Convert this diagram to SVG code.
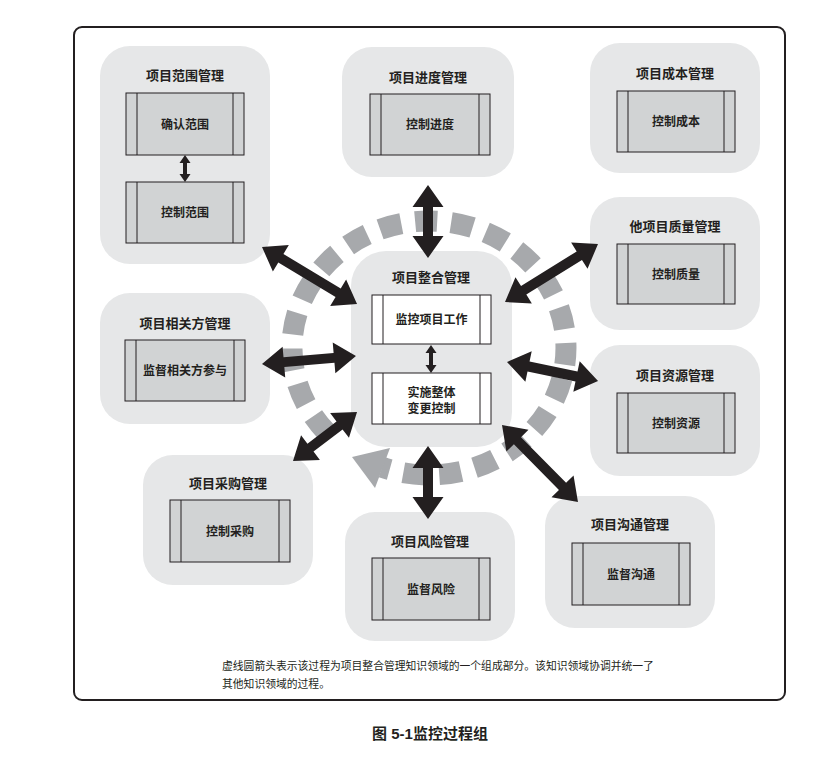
<svg xmlns="http://www.w3.org/2000/svg" width="833" height="759" viewBox="0 0 833 759">
<style>
.frame{fill:#fff;stroke:#231f20;stroke-width:2}
.node{fill:#e6e7e8}
.pbox{fill:#d1d3d4;stroke:#231f20;stroke-width:1}
.wbox{fill:#fff;stroke:#231f20;stroke-width:1}
.strip{stroke:#231f20;stroke-width:1}
.title{font-family:"Liberation Sans","Noto Sans CJK SC",sans-serif;font-weight:bold;font-size:13px;fill:#231f20;text-anchor:middle}
.lbl{font-family:"Liberation Sans","Noto Sans CJK SC",sans-serif;font-weight:bold;font-size:12px;fill:#231f20;text-anchor:middle}
.note{font-family:"Liberation Sans","Noto Sans CJK SC",sans-serif;font-size:10.8px;fill:#231f20}
.cap{font-family:"Liberation Sans","Noto Sans CJK SC",sans-serif;font-weight:bold;font-size:15px;fill:#231f20;text-anchor:middle}
.darr{fill:#231f20}
.ring{fill:none;stroke:#a7a9ac;stroke-width:21;stroke-dasharray:22 14;stroke-dashoffset:14}
</style>
<rect class="frame" x="74" y="27" width="711" height="673" rx="8"/>

<g id="ring">
<path class="ring" d="M382.1,467.3 A137,127 0 1 0 328.8,434.6"/>
<polygon points="352,457 390,448 375,488" fill="#a7a9ac"/>
</g>

<g id="n-scope">
<rect class="node" x="100" y="46" width="170" height="218" rx="30"/>
<text class="title" x="185" y="80">项目范围管理</text>
<rect class="pbox" x="126" y="93" width="118" height="62"/>
<line class="strip" x1="137" y1="93" x2="137" y2="155"/><line class="strip" x1="233" y1="93" x2="233" y2="155"/>
<text class="lbl" x="185" y="128.5">确认范围</text>
<rect class="pbox" x="126" y="182" width="118" height="61"/>
<line class="strip" x1="137" y1="182" x2="137" y2="243"/><line class="strip" x1="233" y1="182" x2="233" y2="243"/>
<text class="lbl" x="185" y="217">控制范围</text>
<polygon class="darr" points="185,155 190.5,163 187,163 187,174 190.5,174 185,182 179.5,174 183,174 183,163 179.5,163"/>
</g>

<g id="n-schedule">
<rect class="node" x="342" y="47" width="172" height="130" rx="30"/>
<text class="title" x="428" y="82">项目进度管理</text>
<rect class="pbox" x="370" y="94" width="120" height="61"/>
<line class="strip" x1="381" y1="94" x2="381" y2="155"/><line class="strip" x1="479" y1="94" x2="479" y2="155"/>
<text class="lbl" x="430" y="129">控制进度</text>
</g>

<g id="n-cost">
<rect class="node" x="590" y="43" width="170" height="130" rx="30"/>
<text class="title" x="675" y="78">项目成本管理</text>
<rect class="pbox" x="617" y="91" width="118" height="61"/>
<line class="strip" x1="628" y1="91" x2="628" y2="152"/><line class="strip" x1="724" y1="91" x2="724" y2="152"/>
<text class="lbl" x="676" y="126">控制成本</text>
</g>

<g id="n-quality">
<rect class="node" x="590" y="197" width="170" height="133" rx="30"/>
<text class="title" x="675" y="231">他项目质量管理</text>
<rect class="pbox" x="617" y="244" width="118" height="60"/>
<line class="strip" x1="628" y1="244" x2="628" y2="304"/><line class="strip" x1="724" y1="244" x2="724" y2="304"/>
<text class="lbl" x="676" y="278.5">控制质量</text>
</g>

<g id="n-stakeholder">
<rect class="node" x="100" y="293" width="170" height="131" rx="30"/>
<text class="title" x="185" y="328">项目相关方管理</text>
<rect class="pbox" x="125" y="340" width="120" height="61"/>
<line class="strip" x1="136" y1="340" x2="136" y2="401"/><line class="strip" x1="234" y1="340" x2="234" y2="401"/>
<text class="lbl" x="185" y="375">监督相关方参与</text>
</g>

<g id="n-integration">
<rect class="node" x="351" y="251" width="161" height="196" rx="35"/>
<text class="title" x="431" y="282">项目整合管理</text>
<rect class="wbox" x="372" y="295" width="119" height="49"/>
<line class="strip" x1="383" y1="295" x2="383" y2="344"/><line class="strip" x1="480" y1="295" x2="480" y2="344"/>
<text class="lbl" x="431.5" y="324">监控项目工作</text>
<rect class="wbox" x="372" y="373" width="119" height="51"/>
<line class="strip" x1="383" y1="373" x2="383" y2="424"/><line class="strip" x1="480" y1="373" x2="480" y2="424"/>
<text class="lbl" x="431.5" y="396.5">实施整体</text>
<text class="lbl" x="431.5" y="412.5">变更控制</text>
<polygon class="darr" points="431,345 436.5,353 433,353 433,365 436.5,365 431,373 425.5,365 429,365 429,353 425.5,353"/>
</g>

<g id="n-resource">
<rect class="node" x="590" y="345" width="170" height="131" rx="30"/>
<text class="title" x="675" y="380">项目资源管理</text>
<rect class="pbox" x="617" y="393" width="118" height="60"/>
<line class="strip" x1="628" y1="393" x2="628" y2="453"/><line class="strip" x1="724" y1="393" x2="724" y2="453"/>
<text class="lbl" x="676" y="427.5">控制资源</text>
</g>

<g id="n-procurement">
<rect class="node" x="143" y="455" width="170" height="130" rx="30"/>
<text class="title" x="228" y="488">项目采购管理</text>
<rect class="pbox" x="170" y="500" width="120" height="62"/>
<line class="strip" x1="181" y1="500" x2="181" y2="562"/><line class="strip" x1="279" y1="500" x2="279" y2="562"/>
<text class="lbl" x="230" y="535.5">控制采购</text>
</g>

<g id="n-risk">
<rect class="node" x="345" y="512" width="170" height="129" rx="30"/>
<text class="title" x="430" y="546">项目风险管理</text>
<rect class="pbox" x="372" y="558" width="118" height="62"/>
<line class="strip" x1="383" y1="558" x2="383" y2="620"/><line class="strip" x1="479" y1="558" x2="479" y2="620"/>
<text class="lbl" x="431" y="593.5">监督风险</text>
</g>

<g id="n-communication">
<rect class="node" x="545" y="496" width="170" height="132" rx="30"/>
<text class="title" x="630" y="529">项目沟通管理</text>
<rect class="pbox" x="572" y="543" width="118" height="62"/>
<line class="strip" x1="583" y1="543" x2="583" y2="605"/><line class="strip" x1="679" y1="543" x2="679" y2="605"/>
<text class="lbl" x="631" y="578.5">监督沟通</text>
</g>

<g id="connectors" class="darr">
<polygon transform="translate(428,185) rotate(90)" points="0,0 22,-15.5 22,-5 51,-5 51,-15.5 73,0 51,15.5 51,5 22,5 22,15.5"/>
<polygon transform="translate(428,446) rotate(90)" points="0,0 22,-15.5 22,-5 51,-5 51,-15.5 73,0 51,15.5 51,5 22,5 22,15.5"/>
<polygon transform="translate(262,247) rotate(30.96)" points="0,0 22,-15.5 22,-5 88.8,-5 88.8,-15.5 110.8,0 88.8,15.5 88.8,5 22,5 22,15.5"/>
<polygon transform="translate(262,364) rotate(-4.86)" points="0,0 22,-15.5 22,-5 72.3,-5 72.3,-15.5 94.3,0 72.3,15.5 72.3,5 22,5 22,15.5"/>
<polygon transform="translate(293,461) rotate(-37.4)" points="0,0 22,-15.5 22,-5 58.6,-5 58.6,-15.5 80.6,0 58.6,15.5 58.6,5 22,5 22,15.5"/>
<polygon transform="translate(505,302) rotate(-31.95)" points="0,0 22,-15.5 22,-5 87.6,-5 87.6,-15.5 109.6,0 87.6,15.5 87.6,5 22,5 22,15.5"/>
<polygon transform="translate(507,362) rotate(11.8)" points="0,0 22,-15.5 22,-5 71,-5 71,-15.5 93,0 71,15.5 71,5 22,5 22,15.5"/>
<polygon transform="translate(502,425) rotate(45.4)" points="0,0 22,-15.5 22,-5 86.2,-5 86.2,-15.5 108.2,0 86.2,15.5 86.2,5 22,5 22,15.5"/>
</g>

<text class="note" x="222" y="670">虚线圆箭头表示该过程为项目整合管理知识领域的一个组成部分。该知识领域协调并统一了</text>
<text class="note" x="222" y="688">其他知识领域的过程。</text>
<text class="cap" x="430" y="739">图 5-1监控过程组</text>
</svg>
